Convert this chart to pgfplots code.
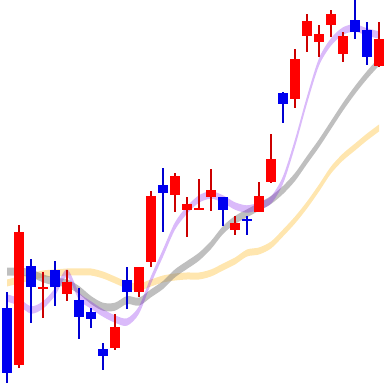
\documentclass[border=0pt]{standalone}
\usepackage{pgfplots}
\usepackage{pgfplotstable}
\usepgfplotslibrary{fillbetween}
\pgfplotsset{compat=1.18}
\definecolor{upred}{RGB}{255,0,0}
\definecolor{wickred}{RGB}{204,0,0}
\definecolor{dnblue}{RGB}{0,0,240}
\definecolor{wickblue}{RGB}{0,0,210}
\definecolor{maviolet}{RGB}{118,0,236}
\definecolor{magold}{RGB}{255,180,12}
\definecolor{magray}{RGB}{128,128,128}
% x, body top, body bottom, wick top, wick bottom (screen units, y downwards)
\pgfplotstableread{
x bt bb wt wb
19 232 365 225 368
43 287 288.8 272 318
67 282 294 270 301
115 327 348 314 350
139 267 292 267 297
151 196 262 191 267
175 176 195 173 212
187 204 210 197 237
199 208 210 179 210
211 190 197 169 211
235 223 230 216 235
259 196 212 182 212
271 159 182 134 183
295 59 99 49 108
307 21 36 14 52
319 34 42 25 57
331 14 25 10 37
343 36 54 32 62
379 39 66 22 67
}\redtab
\pgfplotstableread{
x bt bb wt wb
7 308 373 292 383
31 266 287 259 323
55 270 287 261 306
79 300 317 288 339
91 312 319 308 328
103 349 356 343 370
127 280 292 267 309
163 185 193 168 232
223 197 210 197 226
247 219 220.8 216 235
283 93 104 92 123
355 20 32 0 39
367 30 57 22 65
}\bluetab
\pgfplotstableread{
x gray violet gold
7 271.7 298 283
19 271.7 302 280
31 273.3 310 277
43 278.3 305 274
55 281.7 292 273
67 283.3 273 272
79 290 296 272
91 300 305 272
103 306.7 313 275
115 306.7 319 280
127 300 322 285
139 301.7 310 287
151 293.3 280 283
163 285 253 279
175 273.3 226 277
187 265 210 276
199 256.7 199 276
211 245 195 273
223 230 199 267
235 220 206 261
247 213.3 209 253
259 206.7 206 251
271 200 200 245
283 190 180 233
295 177 143 220
307 160 100 205
319 143.3 62 188
331 125 42 170
343 106.7 31 157
355 90 28 147
367 75 32 137
379 61.7 35 128
}\matab
\begin{document}
\begin{tikzpicture}
\begin{axis}[
  width=384pt, height=384pt, scale only axis,
  xmin=0, xmax=384, ymin=0, ymax=384, y dir=reverse,
  axis line style={draw=none}, xtick=\empty, ytick=\empty,
  clip=true,
]
% wicks
\addplot[draw=none, mark=none, forget plot,
  error bars/.cd, y dir=both, y explicit, error mark=none,
  error bar style={line width=2pt, draw=wickred}]
  table[x=x, y=wb, y error plus expr=0, y error minus expr=\thisrow{wb}-\thisrow{wt}] {\redtab};
\addplot[draw=none, mark=none, forget plot,
  error bars/.cd, y dir=both, y explicit, error mark=none,
  error bar style={line width=2pt, draw=wickblue}]
  table[x=x, y=wb, y error plus expr=0, y error minus expr=\thisrow{wb}-\thisrow{wt}] {\bluetab};
% bodies
\addplot[draw=none, mark=none, forget plot,
  error bars/.cd, y dir=both, y explicit, error mark=none,
  error bar style={line width=10pt, draw=upred}]
  table[x=x, y=bb, y error plus expr=0, y error minus expr=\thisrow{bb}-\thisrow{bt}] {\redtab};
\addplot[draw=none, mark=none, forget plot,
  error bars/.cd, y dir=both, y explicit, error mark=none,
  error bar style={line width=10pt, draw=dnblue}]
  table[x=x, y=bb, y error plus expr=0, y error minus expr=\thisrow{bb}-\thisrow{bt}] {\bluetab};
% moving averages as bands of constant vertical thickness
\addplot[draw=none, smooth, mark=none, name path=yA, forget plot] table[x=x, y expr=\thisrow{gold}-3.5] {\matab};
\addplot[draw=none, smooth, mark=none, name path=yB, forget plot] table[x=x, y expr=\thisrow{gold}+3.5] {\matab};
\addplot[fill=magold, fill opacity=0.33, draw=none, forget plot] fill between[of=yA and yB];
\addplot[draw=none, smooth, mark=none, name path=gA, forget plot] table[x=x, y expr=\thisrow{gray}-4] {\matab};
\addplot[draw=none, smooth, mark=none, name path=gB, forget plot] table[x=x, y expr=\thisrow{gray}+4] {\matab};
\addplot[fill=magray, fill opacity=0.5, draw=none, forget plot] fill between[of=gA and gB];
\addplot[draw=none, smooth, mark=none, name path=vA, forget plot] table[x=x, y expr=\thisrow{violet}-3.7] {\matab};
\addplot[draw=none, smooth, mark=none, name path=vB, forget plot] table[x=x, y expr=\thisrow{violet}+3.7] {\matab};
\addplot[fill=maviolet, fill opacity=0.27, draw=none, forget plot] fill between[of=vA and vB];
\end{axis}
\end{tikzpicture}
\end{document}
